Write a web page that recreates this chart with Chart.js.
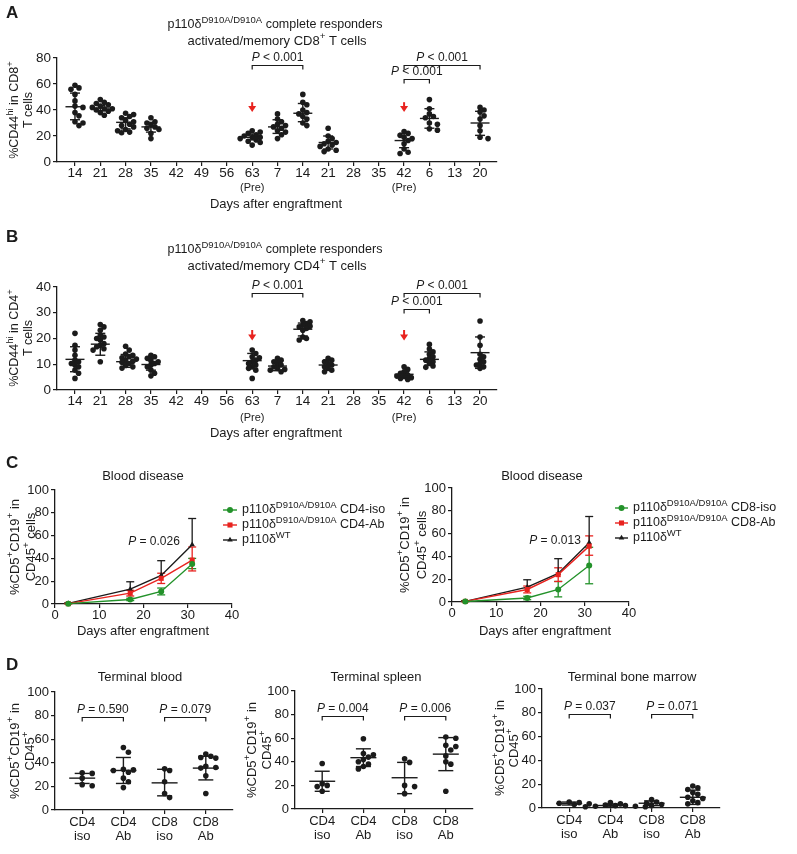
<!DOCTYPE html>
<html>
<head>
<meta charset="utf-8">
<script src="https://cdn.jsdelivr.net/npm/chart.js@4.4.1/dist/chart.umd.min.js"></script>
<style>
  body { margin: 0; background: #fff; }
  #fig { position: relative; width: 797px; height: 854px; overflow: hidden; background: #fff; }
  canvas { position: absolute; }
</style>
</head>
<body>
<div id="fig">
  <canvas id="chartA" width="797" height="228" style="left:0;top:0"></canvas>
  <canvas id="chartB" width="797" height="226" style="left:0;top:229px"></canvas>
  <canvas id="chartC1" width="390" height="185" style="left:0;top:455px"></canvas>
  <canvas id="chartC2" width="407" height="185" style="left:390px;top:455px"></canvas>
  <canvas id="chartD1" width="240" height="214" style="left:0;top:640px"></canvas>
  <canvas id="chartD2" width="250" height="214" style="left:240px;top:640px"></canvas>
  <canvas id="chartD3" width="307" height="214" style="left:490px;top:640px"></canvas>
</div>
<script>
// ---------- data ----------
const days = ['14', '21', '28', '35', '42', '49', '56', '63', '7', '14', '21', '28', '35', '42', '6', '13', '20'];
const preIdx = [7, 13];
const sampledIdx = [0, 1, 2, 3, 7, 8, 9, 10, 13, 14, 16];

// A: %CD44hi in CD8+ T cells
const cd8Pts = [
  [59, 57, 56, 52, 47, 43, 42, 38, 35.5, 31, 30, 28],
  [48, 46, 45, 44, 43, 42, 41, 41, 40, 39, 38, 36],
  [37.5, 36.5, 35, 34, 32, 31, 29, 28, 27, 25, 24, 23, 22.5],
  [34, 31, 30, 28.5, 27, 26, 25, 22, 18],
  [24, 23, 22, 21, 20, 19, 19, 18, 17, 16, 15, 13],
  [37, 33, 31, 29, 28, 27, 26, 24, 23, 21, 18],
  [52, 46, 44, 40, 38, 37, 35, 33, 30, 28],
  [26, 20, 18, 16, 15, 14, 13, 12, 10, 9, 8],
  [23.5, 22, 20.5, 19, 18, 16.5, 14, 10, 7.5, 6.5],
  [48, 41, 37, 35, 34, 30, 29, 25.5, 24.5],
  [42, 40, 38.5, 35.5, 33, 28, 24, 19, 18]
];
const cd8Mean = [42.5, 41.5, 30.5, 27, 19, 27, 37.5, 15, 16.5, 33.5, 30];
const cd8Lo = [32.5, 39.5, 25.5, 23, 17, 22, 31, 10, 11, 26, 20.5];
const cd8Hi = [53, 43.5, 34, 30.5, 21.5, 32.5, 45, 20, 22, 41, 39];

// B: %CD44hi in CD4+ T cells
const cd4Pts = [
  [22, 17.4, 15.5, 13.5, 11.6, 11, 10.3, 9.7, 9, 7.7, 6.5, 4.5],
  [25.4, 24.5, 23.2, 21.3, 20.6, 20, 19.4, 18, 17.4, 16.8, 16, 15.5, 11],
  [17, 15.5, 14, 13.5, 12.9, 12.5, 12, 11.6, 11.2, 10.8, 10.3, 9.5, 9, 8.5],
  [13.5, 12.9, 12.3, 11.4, 11, 10.3, 9.7, 9, 7.7, 6.5, 5.5],
  [15.5, 14.2, 12.9, 12.5, 11.6, 11, 10.3, 9.7, 9, 8.4, 7.7, 4.5],
  [12.3, 11.6, 11, 10.3, 9.7, 9, 8.4, 8, 7.7, 7.1],
  [27, 26.5, 25.8, 25.2, 24.8, 24.5, 23.9, 23.2, 20.6, 20, 19.4],
  [12.3, 11.6, 11, 10.3, 9.7, 9, 8.4, 7.7, 7.1],
  [9, 8, 7.1, 6.5, 5.8, 5.4, 5.2, 4.8, 4.5, 4.1],
  [17.7, 15.9, 14.8, 13.9, 12.9, 12.3, 11.6, 11, 10.3, 9.3, 8.8],
  [26.8, 20.6, 17.4, 13.9, 12.9, 11.9, 11, 10.3, 9.7, 9, 8.4]
];
const cd4Mean = [11.9, 17.8, 11, 9.9, 11.4, 9.3, 23.6, 9.7, 6.1, 11.9, 14.5];
const cd4Lo = [7.1, 13.5, 8.8, 7.7, 8.4, 7.5, 21, 7.7, 5.3, 9.7, 8.4];
const cd4Hi = [16.8, 22, 13.8, 12.3, 14.2, 11, 26, 11.6, 6.9, 14.8, 20.6];

const yTicksA = [0, 20, 40, 60, 80];
const yTicksB = [0, 10, 20, 30, 40];
const yTicksPct = [0, 20, 40, 60, 80, 100];

// C: blood disease time course
const cDays = [3, 17, 24, 31];
const xTicksC = [0, 10, 20, 30, 40];
const wtMean = [0.5, 13, 25, 52];
const wtHi = [1, 19.5, 38, 75];
const cd4IsoMean = [0.3, 4, 11, 35];
const cd4IsoLo = [0.2, 3, 8, 31];
const cd4IsoHi = [0.5, 5, 14, 40];
const cd4AbMean = [0.3, 9.5, 22.5, 38.5];
const cd4AbLo = [0.2, 7, 18, 29];
const cd4AbHi = [0.5, 12, 27, 50];
const cd8IsoMean = [0.5, 3.5, 11, 32];
const cd8IsoLo = [0.3, 2, 4.5, 16];
const cd8IsoHi = [1, 5, 18, 48];
const cd8AbMean = [0.5, 11, 24, 49];
const cd8AbLo = [0.3, 8, 18, 41];
const cd8AbHi = [1, 14, 30, 58];

// D: terminal organs
const dGroups = [['CD4', 'iso'], ['CD4', 'Ab'], ['CD8', 'iso'], ['CD8', 'Ab']];
const bloodPts = [[31.5, 31, 27, 21.5, 20.5], [53, 49, 34.5, 34, 33.5, 32, 27, 24, 19], [35, 33.5, 24, 14, 10.5], [47.5, 45.5, 44.5, 44, 37, 36, 35.5, 29, 14]];
const bloodMean = [27, 33.5, 23, 35.5];
const bloodLo = [22.5, 22.5, 12, 25.5];
const bloodHi = [31, 44.5, 34.5, 45.5];
const spleenPts = [[38.5, 21.5, 20, 19, 15], [59.5, 47, 46, 44, 42, 40, 38, 36, 34], [42.5, 39.5, 20, 19, 13], [61, 60, 54, 53, 50, 45, 40, 38, 15]];
const spleenMean = [23.5, 43.5, 26.5, 46.5];
const spleenLo = [15, 36, 13, 32.5];
const spleenHi = [32, 51, 39.5, 60.5];
const marrowPts = [[5, 4.5, 4, 3.5, 3], [4.5, 3.5, 2.5, 2, 2, 1.5, 1.5, 1, 1], [7, 5, 4, 3, 2], [18.5, 17, 15.5, 13, 11.5, 9, 8, 6, 4.5, 3.5]];
const marrowMean = [3.8, 2.1, 4, 9];
const marrowLo = [2.5, 1, 2, 3];
const marrowHi = [5, 3.3, 6, 15];
const pBlood = ['0.590', '0.079'];
const pSpleen = ['0.004', '0.006'];
const pMarrow = ['0.037', '0.071'];

// ---------- drawing helpers ----------
const FONT = '"Liberation Sans", Arial, Helvetica, sans-serif';
const INK = '#1b1b1b';
const GREEN = '#23922a';
const RED = '#e8231f';
Chart.defaults.font.family = FONT;
Chart.defaults.color = INK;

// "^{..}" = superscript, "*..*" = italic
function parse(str) {
  const out = [];
  str.replace(/\^\{([^}]*)\}|\*([^*]*)\*|[^^*]+/g, (m, sup, it) => {
    out.push(sup !== undefined ? [sup, 'sup'] : it !== undefined ? [it, 'i'] : [m, '']);
    return m;
  });
  return out;
}

function text(ctx, str, x, y, o = {}) {
  const size = o.size || 13;
  const weight = o.bold ? 'bold ' : '';
  const segs = parse(str);
  const fontOf = k => `${k === 'i' ? 'italic ' : ''}${weight}${k === 'sup' ? size * 0.76 : size}px ${FONT}`;
  ctx.save();
  ctx.translate(x, y);
  if (o.rot) ctx.rotate(-Math.PI / 2);
  ctx.fillStyle = o.color || INK;
  ctx.textBaseline = 'middle';
  ctx.textAlign = 'left';
  const ws = segs.map(([t, k]) => { ctx.font = fontOf(k); return ctx.measureText(t).width; });
  const total = ws.reduce((a, b) => a + b, 0);
  let cx = o.align === 'left' ? 0 : o.align === 'right' ? -total : -total / 2;
  segs.forEach(([t, k], i) => {
    ctx.font = fontOf(k);
    ctx.fillText(t, cx, k === 'sup' ? -size * 0.36 : 0);
    cx += ws[i];
  });
  ctx.restore();
}

function seg(ctx, x1, y1, x2, y2) {
  ctx.beginPath(); ctx.moveTo(x1, y1); ctx.lineTo(x2, y2); ctx.stroke();
}

function marker(ctx, shape, x, y, r) {
  ctx.beginPath();
  if (shape === 'circle') ctx.arc(x, y, r, 0, Math.PI * 2);
  else if (shape === 'rect') { const h = r * Math.SQRT1_2; ctx.rect(x - h, y - h, 2 * h, 2 * h); }
  else { ctx.moveTo(x, y - r); ctx.lineTo(x + r * 0.87, y + r * 0.5); ctx.lineTo(x - r * 0.87, y + r * 0.5); ctx.closePath(); }
  ctx.fill();
}

// spread dots of one column sideways so they only overlap a little
function swarm(vals, pxY, pxX, step, gap) {
  const placed = [];
  return vals.map(v => {
    const y = v * pxY;
    for (let k = 0; k < 40; k++) {
      const off = (k % 2 ? 1 : -1) * Math.ceil(k / 2) * step;
      if (placed.every(p => Math.hypot(p.x - off, p.y - y) >= gap)) {
        placed.push({ x: off, y });
        return off / pxX;
      }
    }
    return 0;
  });
}

function figPlugin(p) {
  return {
    id: 'fig',
    beforeDatasetsDraw(chart) {
      if (!p.series) return;
      const { ctx, scales: { x, y } } = chart;
      p.series.forEach(s => {
        ctx.save();
        ctx.strokeStyle = s.color;
        ctx.lineWidth = 1.3;
        cDays.forEach((d, i) => {
          const px = x.getPixelForValue(d);
          const pm = y.getPixelForValue(s.mean[i]);
          [s.lo, s.hi].forEach(arr => {
            if (!arr) return;
            const py = y.getPixelForValue(arr[i]);
            seg(ctx, px, pm, px, py);
            seg(ctx, px - 4, py, px + 4, py);
          });
        });
        ctx.restore();
      });
    },
    afterDatasetsDraw(chart) {
      const { ctx, scales: { x, y } } = chart;
      ctx.save();
      ctx.strokeStyle = INK;
      ctx.lineWidth = 1.4;
      (p.idx || []).forEach((c, g) => {
        const px = x.getPixelForValue(c);
        const m = y.getPixelForValue(p.mean[g]);
        const lo = y.getPixelForValue(p.lo[g]);
        const hi = y.getPixelForValue(p.hi[g]);
        seg(ctx, px - p.meanHalf, m, px + p.meanHalf, m);
        seg(ctx, px, lo, px, hi);
        seg(ctx, px - p.capHalf, lo, px + p.capHalf, lo);
        seg(ctx, px - p.capHalf, hi, px + p.capHalf, hi);
      });
      ctx.lineWidth = 1.2;
      (p.brackets || []).forEach(([a, b, v, label]) => {
        const xa = x.getPixelForValue(a), xb = x.getPixelForValue(b), py = Math.round(y.getPixelForValue(v)) + 0.5;
        ctx.beginPath();
        ctx.moveTo(xa, py + 4); ctx.lineTo(xa, py); ctx.lineTo(xb, py); ctx.lineTo(xb, py + 4);
        ctx.stroke();
        text(ctx, label, (xa + xb) / 2, py - 8, { size: 12 });
      });
      (p.arrows || []).forEach(i => {
        const px = x.getPixelForValue(i);
        const top = y.getPixelForValue(p.arrowTop), tip = y.getPixelForValue(p.arrowTip);
        ctx.strokeStyle = RED; ctx.fillStyle = RED; ctx.lineWidth = 2;
        seg(ctx, px, top, px, tip - 5);
        ctx.beginPath();
        ctx.moveTo(px - 4, tip - 6); ctx.lineTo(px + 4, tip - 6); ctx.lineTo(px, tip);
        ctx.closePath(); ctx.fill();
      });
      ctx.restore();
    },
    afterDraw(chart) {
      const { ctx, scales: { x } } = chart;
      (p.texts || []).forEach(o => text(ctx, o.s, o.x, o.y, o));
      if (p.pre) p.pre.idx.forEach(i => text(ctx, '(Pre)', x.getPixelForValue(i), p.pre.y, { size: 11 }));
      if (p.legend) {
        const L = p.legend;
        p.series.forEach((s, k) => {
          const ly = L.y + k * L.dy;
          ctx.save();
          ctx.strokeStyle = s.color; ctx.fillStyle = s.color; ctx.lineWidth = 1.4;
          seg(ctx, L.x0, ly, L.x1, ly);
          marker(ctx, s.shape, (L.x0 + L.x1) / 2, ly, s.r);
          ctx.restore();
          text(ctx, s.label, L.tx, ly, { size: 12.5, align: 'left' });
        });
      }
    }
  };
}

function baseOptions(p) {
  const [l, t, r, b] = p.area;
  const grid = { drawOnChartArea: false, tickLength: 4, color: INK, lineWidth: 1.2 };
  const border = { color: INK, width: 1.3 };
  return {
    responsive: false,
    animation: false,
    devicePixelRatio: 1,
    layout: { padding: { left: 0, top: t, right: p.W - r, bottom: 0 } },
    plugins: { legend: { display: false }, tooltip: { enabled: false } },
    scales: {
      x: {
        type: 'linear', min: p.xMin, max: p.xMax,
        afterBuildTicks: s => { s.ticks = p.xTicks.map(v => ({ value: v })); },
        afterFit: s => { s.height = p.H - b; },
        ticks: { callback: p.xLabel, font: { size: p.tick, lineHeight: 1.1 }, padding: p.xPad, color: INK, maxRotation: 0, autoSkip: false },
        grid, border
      },
      y: {
        type: 'linear', min: 0, max: p.yMax,
        afterBuildTicks: s => { s.ticks = p.yTicks.map(v => ({ value: v })); },
        afterFit: s => { s.width = l; },
        ticks: { font: { size: p.tick }, padding: 2, color: INK },
        grid, border
      }
    }
  };
}

function dotPanel(id, p) {
  const [l, t, r, b] = p.area;
  const pxY = (b - t) / p.yMax, pxX = (r - l) / (p.xMax - p.xMin);
  const data = [];
  p.pts.forEach((vals, g) => {
    const offs = swarm(vals, pxY, pxX, p.step, p.gap);
    vals.forEach((v, i) => data.push({ x: p.idx[g] + offs[i], y: v }));
  });
  new Chart(document.getElementById(id), {
    type: 'scatter',
    data: { datasets: [{ data, pointRadius: 2.8, pointBackgroundColor: INK, pointBorderWidth: 0, clip: false }] },
    options: baseOptions(p),
    plugins: [figPlugin(p)]
  });
}

function linePanel(id, p) {
  new Chart(document.getElementById(id), {
    type: 'line',
    data: {
      datasets: p.series.map(s => ({
        data: cDays.map((d, i) => ({ x: d, y: s.mean[i] })),
        borderColor: s.color, backgroundColor: s.color, borderWidth: 1.4,
        pointStyle: s.shape, pointRadius: s.r, pointBorderWidth: 0, tension: 0, clip: false
      }))
    },
    options: baseOptions(p),
    plugins: [figPlugin(p)]
  });
}

const dayTicks = days.map((_, i) => i);
const pLess = '*P* < 0.001';

// ---------- A ----------
dotPanel('chartA', {
  W: 797, H: 228, area: [57, 58, 497, 162], xMin: -0.71, xMax: 16.67, yMax: 80,
  xTicks: dayTicks, xLabel: v => days[v], yTicks: yTicksA, tick: 13.5, xPad: 0,
  idx: sampledIdx, pts: cd8Pts, mean: cd8Mean, lo: cd8Lo, hi: cd8Hi, meanHalf: 9.5, capHalf: 5, step: 4, gap: 4.3,
  brackets: [[7, 9, 74.5, pLess], [13, 14, 63.6, pLess], [13, 16, 74.5, pLess]],
  arrows: preIdx, arrowTop: 46, arrowTip: 38.5,
  pre: { idx: preIdx, y: 188 },
  texts: [
    { s: 'A', x: 6, y: 13, size: 17, bold: true, align: 'left' },
    { s: 'p110δ^{D910A/D910A} complete responders', x: 275, y: 25, size: 12.5 },
    { s: 'activated/memory CD8^{+} T cells', x: 277, y: 41, size: 13 },
    { s: '%CD44^{hi} in CD8^{+}', x: 15, y: 110, size: 12.5, rot: true },
    { s: 'T cells', x: 29, y: 110, size: 12.5, rot: true },
    { s: 'Days after engraftment', x: 276, y: 204, size: 13 }
  ]
});

// ---------- B ----------
dotPanel('chartB', {
  W: 797, H: 226, area: [57, 58, 497, 161], xMin: -0.71, xMax: 16.67, yMax: 40,
  xTicks: dayTicks, xLabel: v => days[v], yTicks: yTicksB, tick: 13.5, xPad: 0,
  idx: sampledIdx, pts: cd4Pts, mean: cd4Mean, lo: cd4Lo, hi: cd4Hi, meanHalf: 9.5, capHalf: 5, step: 3.6, gap: 3.9,
  brackets: [[7, 9, 37.5, pLess], [13, 14, 31.3, pLess], [13, 16, 37.5, pLess]],
  arrows: preIdx, arrowTop: 23.3, arrowTip: 19.2,
  pre: { idx: preIdx, y: 189 },
  texts: [
    { s: 'B', x: 6, y: 8, size: 17, bold: true, align: 'left' },
    { s: 'p110δ^{D910A/D910A} complete responders', x: 275, y: 21, size: 12.5 },
    { s: 'activated/memory CD4^{+} T cells', x: 277, y: 37, size: 13 },
    { s: '%CD44^{hi} in CD4^{+}', x: 15, y: 109, size: 12.5, rot: true },
    { s: 'T cells', x: 29, y: 109, size: 12.5, rot: true },
    { s: 'Days after engraftment', x: 276, y: 204, size: 13 }
  ]
});

// ---------- C ----------
const dLabel = 'p110δ^{D910A/D910A} ';
linePanel('chartC1', {
  W: 390, H: 185, area: [55, 35, 232, 149], xMin: 0, xMax: 40, yMax: 100,
  xTicks: xTicksC, xLabel: v => v, yTicks: yTicksPct, tick: 13, xPad: 0,
  series: [
    { label: dLabel + 'CD4-iso', color: GREEN, shape: 'circle', r: 3, mean: cd4IsoMean, lo: cd4IsoLo, hi: cd4IsoHi },
    { label: dLabel + 'CD4-Ab', color: RED, shape: 'rect', r: 3.6, mean: cd4AbMean, lo: cd4AbLo, hi: cd4AbHi },
    { label: 'p110δ^{WT}', color: INK, shape: 'triangle', r: 3.2, mean: wtMean, lo: null, hi: wtHi }
  ],
  legend: { x0: 223, x1: 237, tx: 242, y: 55, dy: 15 },
  texts: [
    { s: 'C', x: 6, y: 8, size: 17, bold: true, align: 'left' },
    { s: 'Blood disease', x: 143, y: 21, size: 13 },
    { s: '%CD5^{+}CD19^{+} in', x: 15, y: 92, size: 13, rot: true },
    { s: 'CD45^{+} cells', x: 31, y: 92, size: 13, rot: true },
    { s: 'Days after engraftment', x: 143, y: 176, size: 13 },
    { s: '*P* = 0.026', x: 154, y: 87, size: 12 }
  ]
});

linePanel('chartC2', {
  W: 407, H: 185, area: [62, 33, 239, 147], xMin: 0, xMax: 40, yMax: 100,
  xTicks: xTicksC, xLabel: v => v, yTicks: yTicksPct, tick: 13, xPad: 0,
  series: [
    { label: dLabel + 'CD8-iso', color: GREEN, shape: 'circle', r: 3, mean: cd8IsoMean, lo: cd8IsoLo, hi: cd8IsoHi },
    { label: dLabel + 'CD8-Ab', color: RED, shape: 'rect', r: 3.6, mean: cd8AbMean, lo: cd8AbLo, hi: cd8AbHi },
    { label: 'p110δ^{WT}', color: INK, shape: 'triangle', r: 3.2, mean: wtMean, lo: null, hi: wtHi }
  ],
  legend: { x0: 225, x1: 238, tx: 243, y: 53, dy: 15 },
  texts: [
    { s: 'Blood disease', x: 152, y: 21, size: 13 },
    { s: '%CD5^{+}CD19^{+} in', x: 15, y: 90, size: 13, rot: true },
    { s: 'CD45^{+} cells', x: 32, y: 90, size: 13, rot: true },
    { s: 'Days after engraftment', x: 155, y: 176, size: 13 },
    { s: '*P* = 0.013', x: 165, y: 86, size: 12 }
  ]
});

// ---------- D ----------
function organPanel(id, W, area, pts, mean, lo, hi, pv, texts) {
  dotPanel(id, {
    W, H: 214, area, xMin: -0.66, xMax: 3.66, yMax: 100,
    xTicks: [0, 1, 2, 3], xLabel: v => dGroups[v], yTicks: yTicksPct, tick: 13, xPad: 1,
    idx: [0, 1, 2, 3], pts, mean, lo, hi, meanHalf: 13, capHalf: 7.5, step: 5, gap: 5.2,
    brackets: [[0, 1, 79, '*P* = ' + pv[0]], [2, 3, 79, '*P* = ' + pv[1]]],
    texts
  });
}

organPanel('chartD1', 240, [55, 52, 233, 170], bloodPts, bloodMean, bloodLo, bloodHi, pBlood, [
  { s: 'D', x: 6, y: 25, size: 17, bold: true, align: 'left' },
  { s: 'Terminal blood', x: 140, y: 37, size: 13 },
  { s: '%CD5^{+}CD19^{+} in', x: 15, y: 111, size: 13, rot: true },
  { s: 'CD45^{+}', x: 30, y: 111, size: 13, rot: true }
]);
organPanel('chartD2', 250, [55, 51, 233, 169], spleenPts, spleenMean, spleenLo, spleenHi, pSpleen, [
  { s: 'Terminal spleen', x: 136, y: 37, size: 13 },
  { s: '%CD5^{+}CD19^{+} in', x: 12, y: 110, size: 13, rot: true },
  { s: 'CD45^{+}', x: 27, y: 110, size: 13, rot: true }
]);
organPanel('chartD3', 307, [52, 49, 230, 168], marrowPts, marrowMean, marrowLo, marrowHi, pMarrow, [
  { s: 'Terminal bone marrow', x: 142, y: 37, size: 13 },
  { s: '%CD5^{+}CD19^{+} in', x: 10, y: 108, size: 13, rot: true },
  { s: 'CD45^{+}', x: 24, y: 108, size: 13, rot: true }
]);
</script>
</body>
</html>
